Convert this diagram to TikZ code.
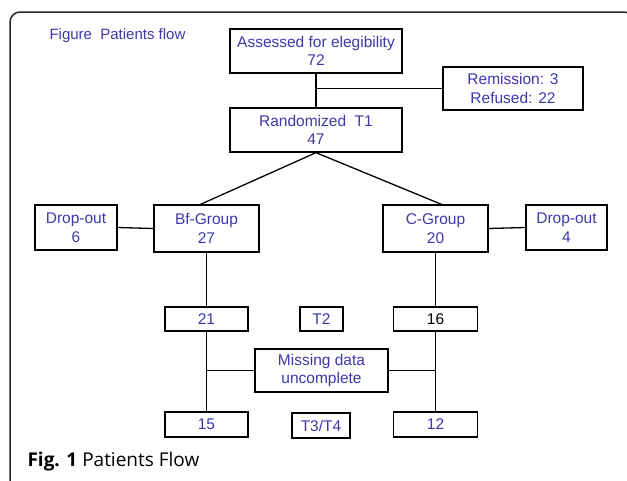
\documentclass[tikz,border=0pt]{standalone}
\usepackage{fontspec}
\setmainfont{Liberation Sans}
\newfontfamily\capfont{Open Sans}
\usetikzlibrary{calc}
\definecolor{txtblue}{RGB}{62,56,168}
\definecolor{framegray}{RGB}{40,40,40}
\begin{document}
\begin{tikzpicture}[x=1pt,y=-1pt,
  box/.style={draw=black,line width=1.3pt,rectangle,inner sep=0pt,align=center,
    text=txtblue,font=\fontsize{15.5}{18.5}\selectfont},
  link/.style={draw=black,line width=1.3pt}]
\useasboundingbox (0,0) rectangle (627,480);
\begin{scope}
\clip (0,0) rectangle (627,480);
\draw[framegray,line width=1.5pt,rounded corners=10pt] (10,12) rectangle (634,495);
\end{scope}
\node[anchor=west,text=txtblue,font=\fontsize{15}{18}\selectfont] (title) at (46,36) {Figure\ \ Patients flow};
\node[box,minimum width=172pt,minimum height=44pt] (assess) at (316,51) {Assessed for elegibility\\72};
\node[box,minimum width=140pt,minimum height=43pt] (remis) at (513,88.5) {Remission: 3\\Refused: 22};
\node[box,minimum width=172pt,minimum height=44pt] (rand) at (316,130) {Randomized\ \ T1\\47};
\node[box,minimum width=82pt,minimum height=45pt] (drop6) at (76,227.5) {Drop-out\\6};
\node[box,minimum width=105pt,minimum height=47pt] (bf) at (206.5,228.5) {Bf-Group\\27};
\node[box,minimum width=105pt,minimum height=47pt] (cg) at (435.5,228.5) {C-Group\\20};
\node[box,minimum width=81pt,minimum height=45pt] (drop4) at (566.5,227.5) {Drop-out\\4};
\node[box,minimum width=83pt,minimum height=24pt] (n21) at (206.5,319) {21};
\node[box,minimum width=43pt,minimum height=24pt] (t2) at (321.5,319) {T2};
\node[box,minimum width=84pt,minimum height=24pt,text=black] (n16) at (435.5,319) {16};
\node[box,minimum width=133pt,minimum height=43pt] (miss) at (321.5,370.5) {Missing data\\uncomplete};
\node[box,minimum width=83pt,minimum height=25pt] (n15) at (206.5,424.5) {15};
\node[box,minimum width=58pt,minimum height=25pt] (t34) at (321,425.5) {T3/T4};
\node[box,minimum width=84pt,minimum height=25pt] (n12) at (435.5,424.5) {12};
\node[anchor=west,font=\capfont\fontsize{19}{22}\selectfont,text=black] (cap) at (24,462) {\textbf{Fig. 1} Patients Flow};
% connectors
\coordinate (j1) at (assess.south |- remis.west);
\draw[link] (assess.south) -- (rand.north);
\draw[link] (j1) -- (remis.west);
\coordinate (bftop) at ($(bf.north)+(-6,0)$);
\coordinate (cgtop) at ($(cg.north)+(6,0)$);
\draw[link] (bftop) -- (rand.south) -- (cgtop);
\draw[link] (drop6.east) -- (bf.west);
\draw[link] (cg.east) -- (drop4.west);
\draw[link] (bf.south) -- (n21.north);
\draw[link] (cg.south) -- (n16.north);
\draw[link] (n21.south) -- (n15.north);
\draw[link] (n16.south) -- (n12.north);
\coordinate (j2) at (n21.south |- miss.west);
\coordinate (j3) at (n16.south |- miss.east);
\draw[link] (j2) -- (miss.west);
\draw[link] (miss.east) -- (j3);
\end{tikzpicture}
\end{document}
